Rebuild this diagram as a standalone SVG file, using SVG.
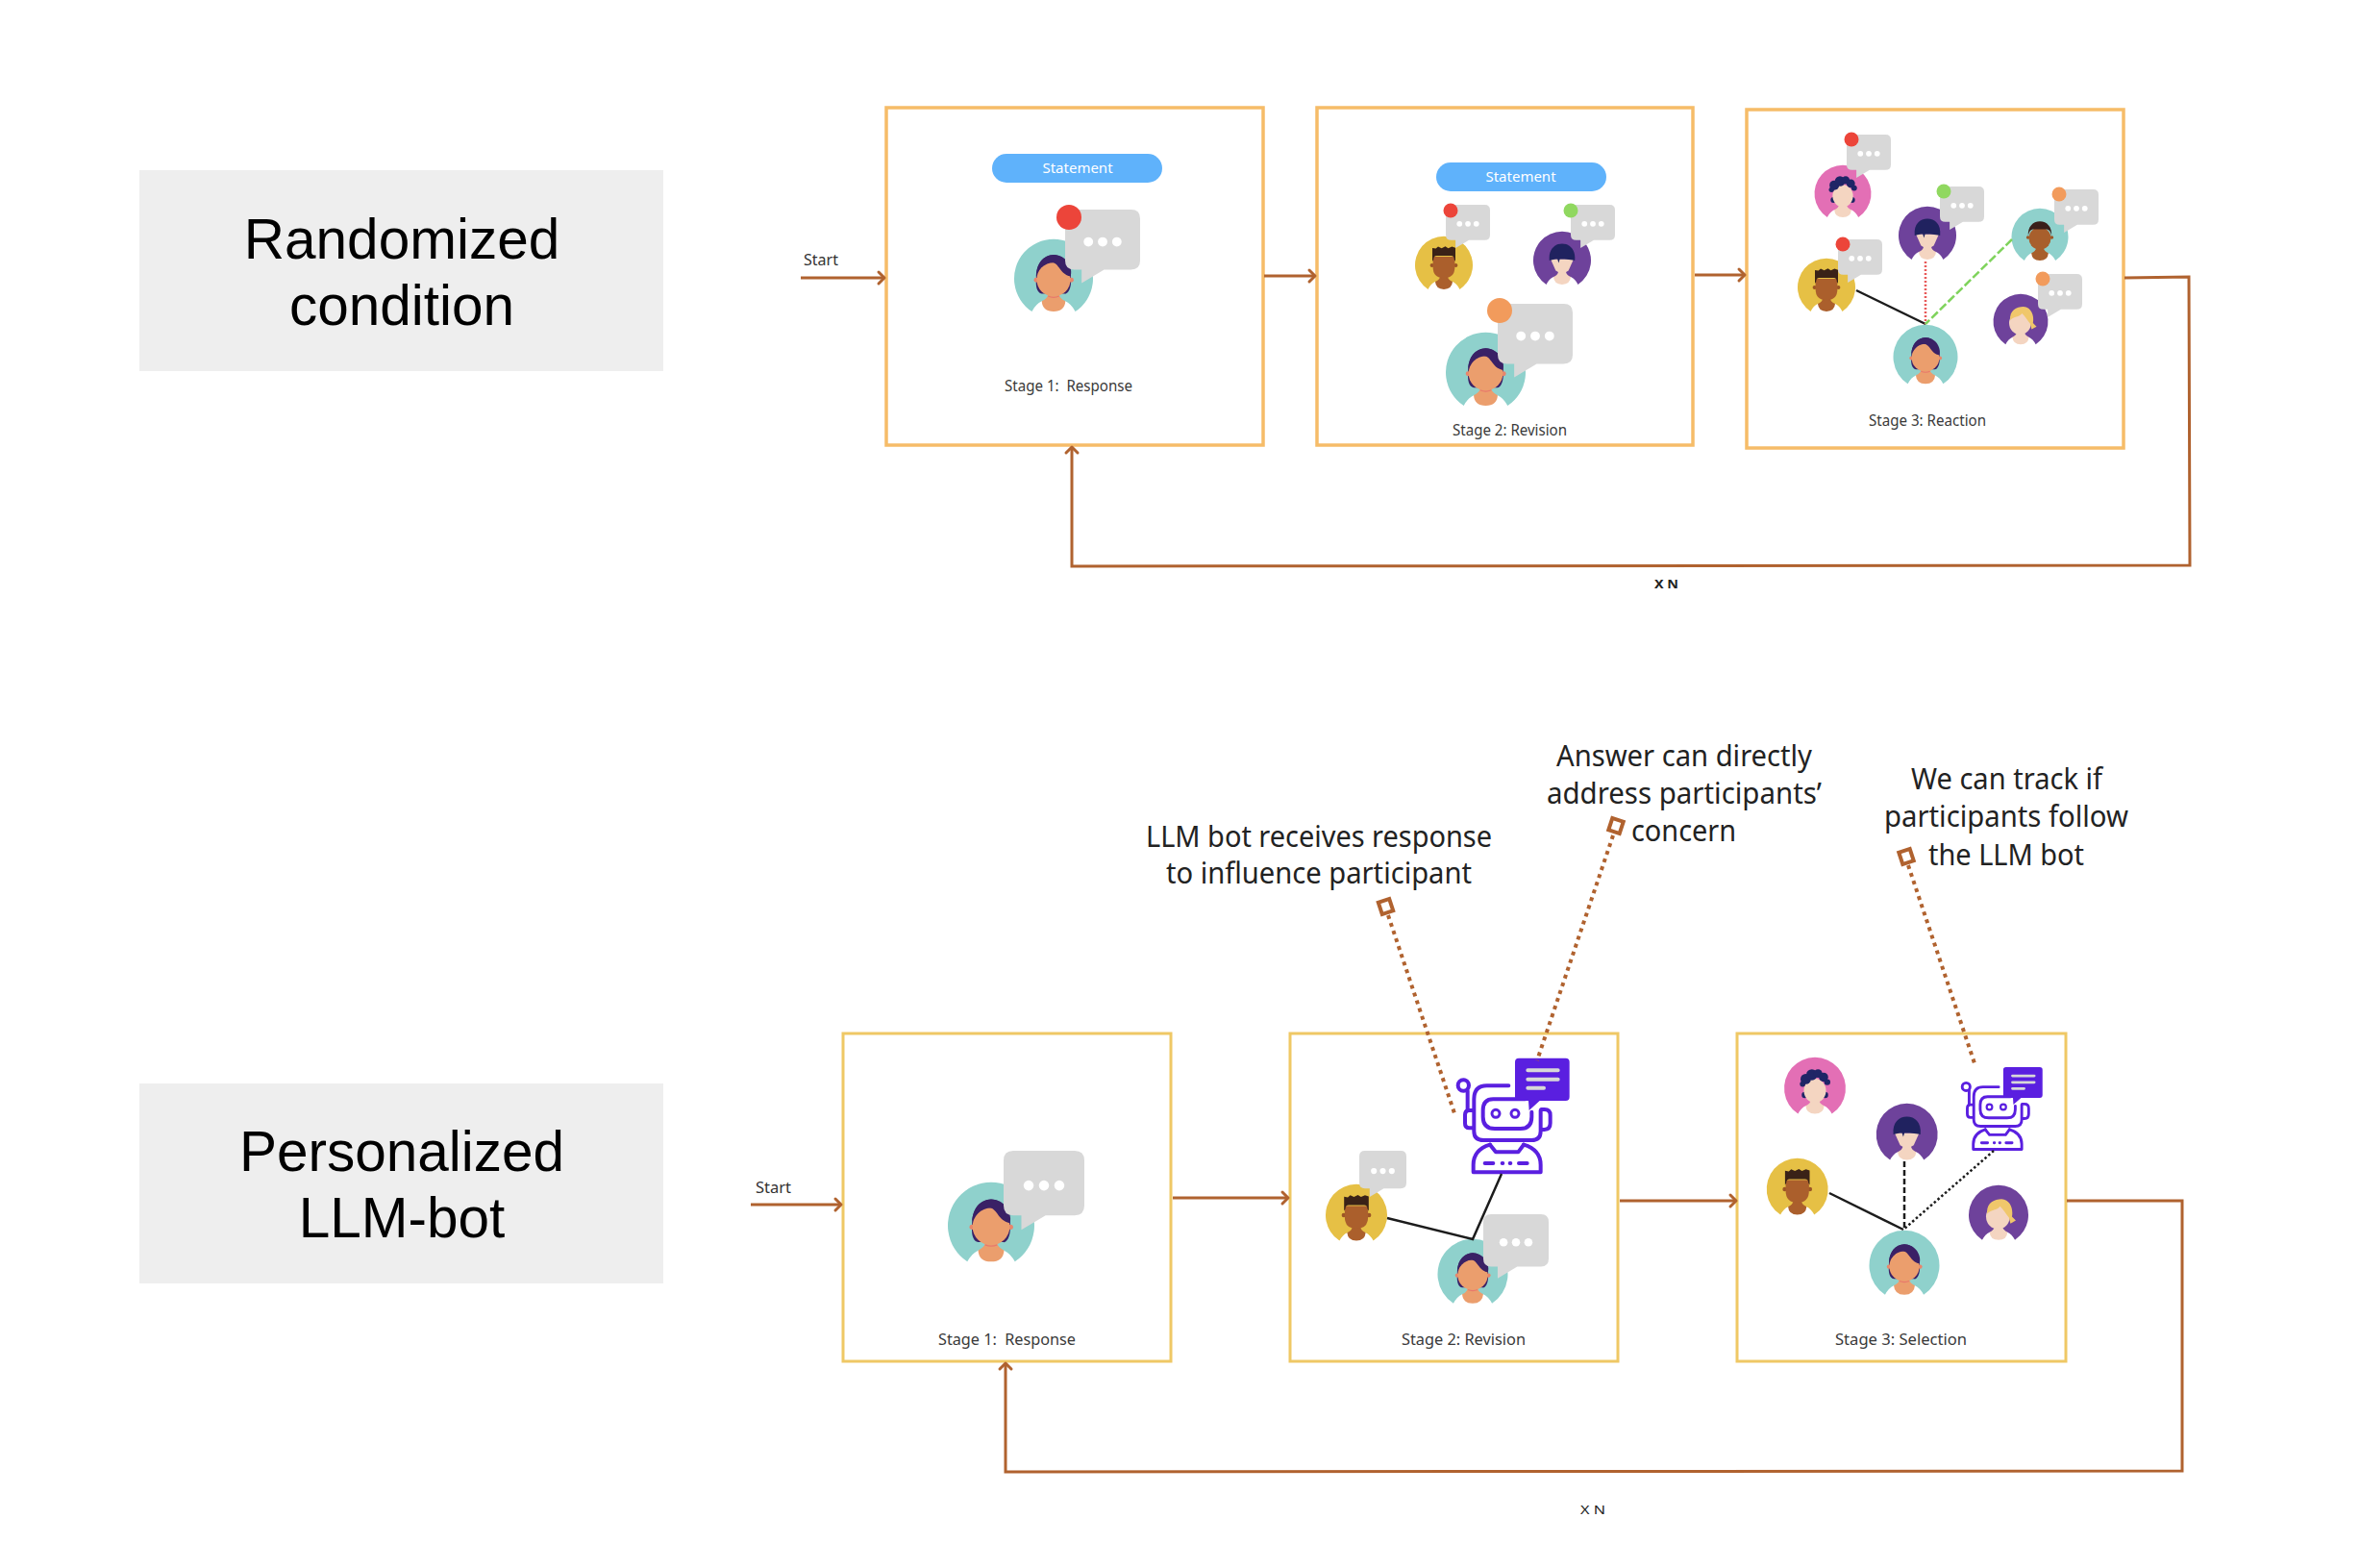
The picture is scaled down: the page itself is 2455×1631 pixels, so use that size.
<svg xmlns="http://www.w3.org/2000/svg" width="2455" height="1631" viewBox="0 0 2455 1631">
<style>
text{font-family:"Noto Sans","Open Sans","Liberation Sans",sans-serif}
.panel{fill:#eeeeee}
.ptext{font-family:"Liberation Sans",Arial,sans-serif;font-size:58.500px;fill:#000;text-anchor:middle}
.btop{fill:#fff;stroke:#f6bc68;stroke-width:3.500}
.bbot{fill:#fff;stroke:#efc865;stroke-width:3}
.stage{font-size:16px;fill:#3a3a3a}
.small{font-size:16px;fill:#333}
.xn{font-size:13px;fill:#222}
.note{font-size:30px;fill:#222}
.pill{fill:#5fb2fb}
.pilltext{font-size:15px;fill:#fff;text-anchor:middle}
.arrow{fill:none;stroke:#b0622f;stroke-width:3;marker-end:url(#head)}
.thin{fill:none;stroke:#b0622f;stroke-width:3;marker-end:url(#head)}
.ann{fill:none;stroke:#b0622f;stroke-width:4;stroke-dasharray:4 4.500}
.pin{fill:#fff;stroke:#b0622f;stroke-width:4}
.rel{stroke:#1c1c1c;stroke-width:2.500;fill:none}
.bs{fill:none;stroke:#5a1fe0;stroke-width:12;stroke-linecap:round;stroke-linejoin:round}
</style>
<defs>
<marker id="head" markerUnits="userSpaceOnUse" markerWidth="14" markerHeight="16" refX="12" refY="8" orient="auto" overflow="visible"><path d="M6,2 L12,8 L6,14" fill="none" stroke="#b0622f" stroke-width="3" stroke-linecap="round" stroke-linejoin="round"/></marker>
<path id="cut" d="M-55,83 A100,100 0 1 1 55,83 Q45,64 30,57 L-30,57 Q-45,64 -55,83Z"/>
<path id="body" d="M-30,57 Q-28,83 0,83 Q28,83 30,57 Q15,50 13,38 H-13 Q-15,50 -30,57Z"/>
<g id="woman">
<use href="#cut" fill="#8fd1cc"/>
<use href="#body" fill="#eb9e6d"/>
<path d="M-44,0 C-46,-40 -25,-60 0,-61 C30,-60 46,-30 44,0 C46,25 35,40 28,38 L-30,38 C-42,35 -46,20 -44,0Z" fill="#3a2166"/>
<circle cx="-44" cy="3" r="6" fill="#e8866c"/><circle cx="45" cy="3" r="6" fill="#e8866c"/>
<ellipse cx="0" cy="2" rx="43" ry="43" fill="#eb9e6d"/>
<path d="M-5,-42 C15,-40 15,-12 43,-6 C50,-25 35,-60 0,-61 C-25,-60 -42,-40 -44,-10 C-35,-30 -20,-42 -5,-42Z" fill="#3a2166"/>
<path d="M-14,44 Q0,50 14,44" fill="none" stroke="#e8786c" stroke-width="3"/>
</g>
<g id="man">
<use href="#cut" fill="#e6c045"/>
<use href="#body" fill="#ab5f2c"/>
<circle cx="-41" cy="0" r="7" fill="#9c5526"/><circle cx="41" cy="0" r="7" fill="#9c5526"/>
<path d="M-38,-30 V5 Q-38,44 0,44 Q38,44 38,5 V-30Z" fill="#ab5f2c"/>
<path d="M-40,-14 L-40,-60 L-28,-58 L-20,-65 L-8,-59 L5,-66 L15,-59 L28,-65 L40,-61 L40,-14 L36,-20 Q36,-33 25,-33 H-25 Q-36,-33 -36,-20Z" fill="#3a2217"/>
</g>
<g id="girl">
<use href="#cut" fill="#6e429b"/>
<use href="#body" fill="#f4d5c1"/>
<path d="M-40,-5 H40 L22,35 Q0,52 -22,35Z" fill="#f4d5c1"/>
<path d="M-44,0 C-48,-40 -25,-58 0,-58 C25,-58 48,-40 44,0 C35,-3 15,-5 -8,-5 L-12,8 L-16,-5 C-25,-5 -35,-3 -44,0Z" fill="#20225f"/>
</g>
<g id="pink">
<use href="#cut" fill="#e36fb5"/>
<use href="#body" fill="#f4d5c1"/>
<circle cx="-33" cy="22" r="10" fill="#1f2566"/><circle cx="33" cy="22" r="10" fill="#1f2566"/>
<ellipse cx="0" cy="8" rx="36" ry="39" fill="#f4d5c1"/>
<g fill="#1f2566"><circle cx="-30" cy="-30" r="17"/><circle cx="-10" cy="-44" r="18"/><circle cx="10" cy="-48" r="14"/><circle cx="28" cy="-36" r="15"/><circle cx="40" cy="-20" r="10"/><circle cx="-40" cy="-14" r="9"/></g>
</g>
<g id="tman">
<use href="#cut" fill="#8fd1cc"/>
<use href="#body" fill="#a85f2c"/>
<circle cx="-42" cy="2" r="6" fill="#9c5526"/><circle cx="42" cy="2" r="6" fill="#9c5526"/>
<ellipse cx="0" cy="5" rx="39" ry="40" fill="#a85f2c"/>
<path d="M-41,-3 C-44,-35 -25,-55 0,-55 C25,-55 44,-35 41,-3 Q38,-25 25,-27 H-25 Q-38,-25 -41,-3Z" fill="#3a1f1a"/>
</g>
<g id="blond">
<use href="#cut" fill="#6e429b"/>
<use href="#body" fill="#f4d5c1"/>
<ellipse cx="-2" cy="5" rx="40" ry="42" fill="#f4d5c1"/>
<path d="M-38,-5 C-42,-40 -15,-54 10,-54 C40,-52 50,-20 45,5 L58,18 L40,28 L35,8 C25,-5 15,-20 5,-30 C-5,-15 -25,-20 -38,-5Z" fill="#f0c76b"/>
</g>
<g id="bubble">
<path d="M12,0 H88 Q100,0 100,12 V68 Q100,80 88,80 H52 L22,98 V80 H12 Q0,80 0,68 V12 Q0,0 12,0Z" fill="#d8d8d8"/>
<circle cx="31" cy="43" r="6.300" fill="#fff"/><circle cx="50" cy="43" r="6.300" fill="#fff"/><circle cx="69" cy="43" r="6.300" fill="#fff"/>
</g>
<g id="robot">
<g transform="translate(-585,-122)">
<circle class="bs" cx="607" cy="207" r="17"/>
<path class="bs" d="M620,224 V285"/>
<path class="bs" d="M748,208 H680 Q640,208 640,250 V350 Q640,378 670,378 H820 Q848,378 848,350 V285"/>
<path class="bs" d="M850,282 H860 Q878,282 878,300 V325 Q878,345 860,345 H850"/>
<path class="bs" d="M636,285 H625 Q612,285 612,300 V325 Q612,340 625,340 H636"/>
<path class="bs" d="M800,250 H700 Q668,250 668,285 V305 Q668,342 705,342 H785 Q820,342 820,305 V290"/>
<circle cx="708" cy="295" r="12" fill="none" stroke="#5a1fe0" stroke-width="9"/>
<circle cx="768" cy="295" r="12" fill="none" stroke="#5a1fe0" stroke-width="9"/>
<path class="bs" d="M690,392 Q638,408 638,455 V478 H848 V455 Q848,408 795,392"/>
<path class="bs" d="M690,392 L708,415 H778 L795,392"/>
<path class="bs" d="M674,450 H700 M728,450 H730 M752,450 H754 M780,450 H806"/>
<path d="M780,122 H926 Q938,122 938,134 V243 Q938,255 926,255 H845 L812,285 L810,255 H780 Q768,255 768,243 V134 Q768,122 780,122Z" fill="#5a1fe0"/>
<path d="M808,160 H902 M808,188 H902 M808,215 H858" stroke="#d8d8d8" stroke-width="12" stroke-linecap="round" fill="none"/>
</g>
</g>
</defs>
<rect width="2455" height="1631" fill="#fff"/>

<g id="panel-randomized"><rect class="panel" x="145" y="177" width="545" height="209"/>
<text class="ptext" x="418" y="269">Randomized</text><text class="ptext" x="418" y="338">condition</text></g>
<g id="panel-personalized"><rect class="panel" x="145" y="1127" width="545" height="208"/>
<text class="ptext" x="418" y="1218">Personalized</text><text class="ptext" x="418" y="1287">LLM-bot</text></g>

<g id="top-stage-1">
<rect class="btop" x="922" y="112" width="392" height="351"/>
<rect class="pill" x="1032" y="160" width="177" height="30" rx="15"/><text class="pilltext" x="1121" y="180">Statement</text>
<use href="#woman" transform="translate(1096,290) scale(.41)"/>
<use href="#bubble" transform="translate(1108,218) scale(.78)"/>
<circle cx="1112" cy="226" r="13" fill="#ec453a"/>
<text class="stage" x="1045" y="407" textLength="133" lengthAdjust="spacingAndGlyphs" xml:space="preserve">Stage 1:  Response</text>
</g>
<g id="top-stage-2">
<rect class="btop" x="1370" y="112" width="391" height="351"/>
<rect class="pill" x="1494" y="169" width="177" height="30" rx="15"/><text class="pilltext" x="1582" y="189">Statement</text>
<use href="#man" transform="translate(1502,276) scale(.3)"/>
<use href="#bubble" transform="translate(1504,213) scale(.46)"/>
<circle cx="1509" cy="219" r="7.500" fill="#ec453a"/>
<use href="#girl" transform="translate(1625,271) scale(.3)"/>
<use href="#bubble" transform="translate(1634,213) scale(.46)"/>
<circle cx="1634" cy="219" r="7.500" fill="#90d860"/>
<use href="#woman" transform="translate(1545.500,387.500) scale(.415)"/>
<use href="#bubble" transform="translate(1558,316) scale(.78)"/>
<circle cx="1560" cy="323" r="13" fill="#f29b5c"/>
<text class="stage" x="1511" y="453" textLength="119" lengthAdjust="spacingAndGlyphs">Stage 2: Revision</text>
</g>
<g id="top-stage-3">
<rect class="btop" x="1817" y="114" width="392" height="352"/>
<use href="#pink" transform="translate(1917,201.500) scale(.295)"/>
<use href="#bubble" transform="translate(1921,140) scale(.46)"/>
<circle cx="1926" cy="145" r="7.500" fill="#ec453a"/>
<use href="#girl" transform="translate(2005,245) scale(.3)"/>
<use href="#bubble" transform="translate(2018,194) scale(.46)"/>
<circle cx="2022" cy="199" r="7.500" fill="#90d860"/>
<use href="#tman" transform="translate(2122,246.500) scale(.295)"/>
<use href="#bubble" transform="translate(2137,197) scale(.46)"/>
<circle cx="2142" cy="202" r="7.500" fill="#f29b5c"/>
<use href="#man" transform="translate(1900,299) scale(.3)"/>
<use href="#bubble" transform="translate(1912,249) scale(.46)"/>
<circle cx="1917" cy="254" r="7.500" fill="#ec453a"/>
<use href="#blond" transform="translate(2102,334.500) scale(.285)"/>
<use href="#bubble" transform="translate(2120,285) scale(.46)"/>
<circle cx="2125" cy="290" r="7.500" fill="#f29b5c"/>
<use href="#woman" transform="translate(2003,371.500) scale(.335)"/>
<text class="stage" x="1944" y="443" textLength="122" lengthAdjust="spacingAndGlyphs">Stage 3: Reaction</text>
</g>

<g id="bottom-stage-1">
<rect class="bbot" x="877" y="1075" width="341" height="341"/>
<use href="#woman" transform="translate(1031,1275) scale(.45)"/>
<use href="#bubble" transform="translate(1044,1197) scale(.84)"/>
<text class="stage" x="976" y="1399" textLength="143" lengthAdjust="spacingAndGlyphs" xml:space="preserve">Stage 1:  Response</text>
</g>
<g id="bottom-stage-2">
<rect class="bbot" x="1342" y="1075" width="341" height="341"/>
<use href="#man" transform="translate(1411,1264) scale(.32)"/>
<use href="#bubble" transform="translate(1414,1197) scale(.49)"/>
<use href="#woman" transform="translate(1532,1325.500) scale(.365)"/>
<use href="#bubble" transform="translate(1543,1263) scale(.68)"/>
<use href="#robot" transform="translate(1515,1100.700) scale(.3333)"/>
<text class="stage" x="1458" y="1399" textLength="129" lengthAdjust="spacingAndGlyphs">Stage 2: Revision</text>
</g>
<g id="bottom-stage-3">
<rect class="bbot" x="1807" y="1075" width="342" height="341"/>
<use href="#pink" transform="translate(1888,1132) scale(.32)"/>
<use href="#girl" transform="translate(1983.700,1180) scale(.32)"/>
<use href="#man" transform="translate(1869.700,1237) scale(.32)"/>
<use href="#blond" transform="translate(2079,1264) scale(.31)"/>
<use href="#woman" transform="translate(1981,1316.500) scale(.365)"/>
<use href="#robot" transform="translate(2040,1110) scale(.24)"/>
<text class="stage" x="1909" y="1399" textLength="137" lengthAdjust="spacingAndGlyphs">Stage 3: Selection</text>
</g>

<g id="labels">
<text class="small" x="836" y="276" textLength="36" lengthAdjust="spacingAndGlyphs">Start</text>
<text class="small" x="786" y="1241" textLength="37" lengthAdjust="spacingAndGlyphs">Start</text>
<text class="xn" x="1721" y="612" font-weight="700" textLength="25" lengthAdjust="spacingAndGlyphs" xml:space="preserve">X N</text>
<text class="xn" x="1644" y="1575" textLength="26" lengthAdjust="spacingAndGlyphs" xml:space="preserve">X N</text>
</g>

<g id="note-llm-influence">
<text class="note" x="1192" y="881" textLength="360" lengthAdjust="spacingAndGlyphs">LLM bot receives response</text>
<text class="note" x="1213" y="919" textLength="318" lengthAdjust="spacingAndGlyphs">to influence participant</text>
</g>
<g id="note-answer">
<text class="note" x="1619" y="797" textLength="266" lengthAdjust="spacingAndGlyphs">Answer can directly</text>
<text class="note" x="1609" y="836" textLength="286" lengthAdjust="spacingAndGlyphs">address participants’</text>
<text class="note" x="1697" y="875" textLength="109" lengthAdjust="spacingAndGlyphs">concern</text>
</g>
<g id="note-track">
<text class="note" x="1988" y="821" textLength="199" lengthAdjust="spacingAndGlyphs">We can track if</text>
<text class="note" x="1960" y="860" textLength="254" lengthAdjust="spacingAndGlyphs">participants follow</text>
<text class="note" x="2006" y="900" textLength="162" lengthAdjust="spacingAndGlyphs">the LLM bot</text>
</g>

<g id="connectors">
<path class="thin" d="M833,289 H920"/>
<path class="arrow" d="M1315,287 H1368"/>
<path class="arrow" d="M1763,286 H1815"/>
<path class="arrow" d="M2210,289 L2277,288 L2278,588 L1115,589 L1115,465"/>
<path class="arrow" d="M781,1253 H875"/>
<path class="arrow" d="M1220,1246 H1340"/>
<path class="arrow" d="M1685,1249 H1806"/>
<path class="arrow" d="M2150,1249 H2270 V1530 L1046,1531 V1418"/>
<path class="rel" d="M1931,302 L2003,337"/>
<path d="M2003,272 V337" fill="none" stroke="#e85a5a" stroke-width="2.500" stroke-dasharray="2 2"/>
<path d="M2093,249 L2003,337" fill="none" stroke="#7fd35c" stroke-width="2.500" stroke-dasharray="9 3"/>
<path class="rel" d="M1443,1267 L1532,1289 L1562,1221"/>
<path class="rel" d="M1903,1241 L1980,1279"/>
<path class="rel" d="M1981,1208 V1279" stroke-dasharray="6 3"/>
<path class="rel" d="M2074,1197 L1980,1279" stroke-dasharray="2.500 2.500"/>
<path class="ann" d="M1444,952 L1513,1158"/>
<path class="ann" d="M1678,869 L1599,1103"/>
<path class="ann" d="M1985,900 L2054,1106"/>
<rect class="pin" x="-6" y="-6.500" width="12" height="13" transform="translate(1441.500,943) rotate(-18)"/>
<rect class="pin" x="-6" y="-6.500" width="12" height="13" transform="translate(1681,859) rotate(18)"/>
<rect class="pin" x="-6" y="-6.500" width="12" height="13" transform="translate(1983,891) rotate(-18)"/>
</g>
</svg>
